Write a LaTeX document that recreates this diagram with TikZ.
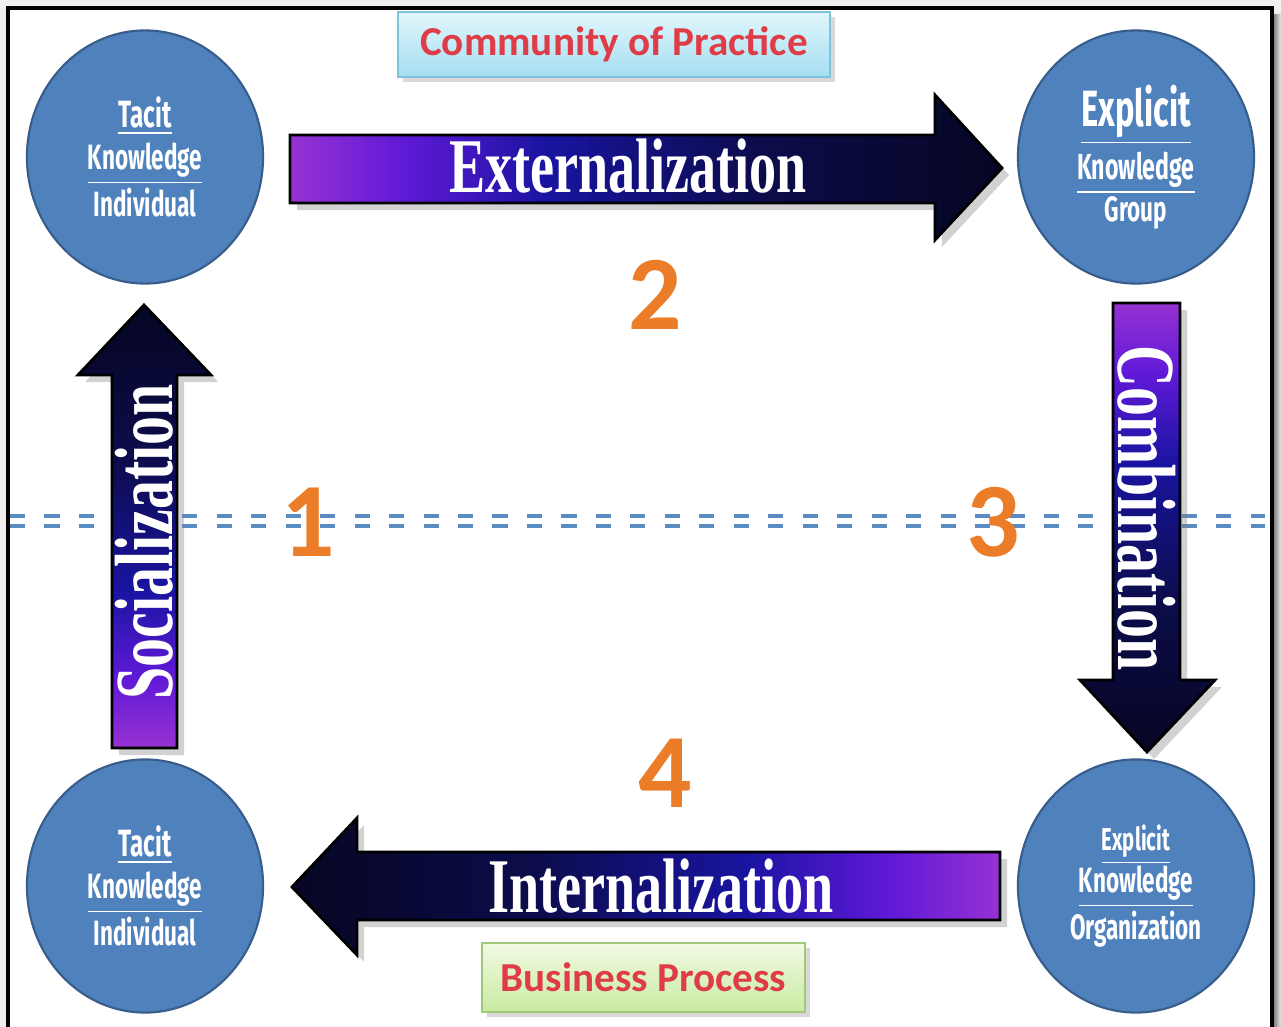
\documentclass[tikz,border=0pt]{standalone}
\usepackage{fontspec}
\usepackage{tikz}
\usepackage{xcolor}
\usetikzlibrary{shapes.geometric,shadows}

\setmainfont{Carlito}
\newfontfamily\knowfont[FakeStretch=0.64]{Fira Sans}
\newfontfamily\arrowfont[FakeStretch=0.7]{Liberation Serif}

\definecolor{circfill}{RGB}{79,129,189}
\definecolor{circdraw}{RGB}{56,93,138}
\definecolor{arrpurple}{RGB}{150,50,210}
\definecolor{arrviolet}{RGB}{95,25,215}
\definecolor{arrblue}{RGB}{25,20,160}
\definecolor{arrnavy}{RGB}{12,12,75}
\definecolor{arrdark}{RGB}{6,6,35}
\definecolor{dashblue}{RGB}{90,140,195}
\definecolor{numorange}{RGB}{236,125,40}
\definecolor{labelred}{RGB}{222,60,70}
\definecolor{cyantop}{RGB}{226,246,252}
\definecolor{cyanbot}{RGB}{165,222,242}
\definecolor{cyandraw}{RGB}{130,195,220}
\definecolor{greentop}{RGB}{242,250,228}
\definecolor{greenbot}{RGB}{200,234,160}
\definecolor{greendraw}{RGB}{160,200,120}

\pgfdeclarehorizontalshading{arrowshade}{100bp}{color(0bp)=(arrpurple); color(25bp)=(arrpurple); color(33bp)=(arrviolet); color(43bp)=(arrblue); color(58bp)=(arrnavy); color(75bp)=(arrdark); color(100bp)=(arrdark)}

\begin{document}
\begin{tikzpicture}[x=0.01cm, y=-0.01cm,
    knowcirc/.style={ellipse, draw=circdraw, line width=0.6pt, fill=circfill, minimum width=2.36cm, minimum height=2.53cm, text=white, align=center, font=\knowfont\bfseries, inner sep=0pt},
    bigarrow/.style={draw=black, line width=0.8pt, shading=arrowshade, drop shadow={opacity=0.35, shadow xshift=2pt, shadow yshift=-2pt}},
    arrowtext/.style={text=white, font=\arrowfont\bfseries\fontsize{22}{24}\selectfont},
    stepnum/.style={text=numorange, font=\bfseries\fontsize{30}{32}\selectfont},
    banner/.style={line width=0.5pt, drop shadow={opacity=0.3, shadow xshift=1.5pt, shadow yshift=-1.5pt}, text=labelred, font=\bfseries\fontsize{11.7}{14}\selectfont}]

    \useasboundingbox (0,0) rectangle (1281,1027);

    % Page and frame
    \fill[black!6] (0,0) rectangle (1281,1027);
    \fill[white] (8,8) rectangle (1272,1027);
    \shade[left color=black!55, right color=black!8] (1273,14) rectangle (1281,1027);
    \draw[line width=0.9pt] (8,1027) -- (8,8) -- (1272,8) -- (1272,1027);

    % Level divider
    \draw[dashblue, line width=1.1pt, dash pattern=on 4.3pt off 5.5pt] (10,516) -- (1265,516);
    \draw[dashblue, line width=1.1pt, dash pattern=on 4.3pt off 5.5pt] (10,526) -- (1265,526);

    % Knowledge circles
    \node[knowcirc] (tacitup) at (145,157) {\fontsize{10.8}{12.8}\selectfont\underline{Tacit}\\\underline{Knowledge}\\Individual};
    \node[knowcirc] (explgroup) at (1136,157) {\fontsize{14.5}{15}\selectfont\underline{Explicit}\\[1pt]\fontsize{10.3}{13.5}\selectfont\underline{Knowledge}\\Group};
    \node[knowcirc] (tacitdown) at (145,886) {\fontsize{10.8}{12.8}\selectfont\underline{Tacit}\\\underline{Knowledge}\\Individual};
    \node[knowcirc] (explorg) at (1136,886) {\fontsize{9}{11.5}\selectfont\underline{Explicit}\\\underline{Knowledge}\\Organization};

    % Conversion arrows
    \shadedraw[bigarrow, shading angle=0] (290,135) -- (935,135) -- (935,95) -- (1002,168) -- (935,240) -- (935,203) -- (290,203) -- cycle;
    \shadedraw[bigarrow, shading angle=-90] (1113,303) -- (1180,303) -- (1180,680) -- (1215,680) -- (1147,752) -- (1080,680) -- (1113,680) -- cycle;
    \shadedraw[bigarrow, shading angle=180] (1000,852) -- (357,852) -- (357,818) -- (292,887) -- (357,955) -- (357,920) -- (1000,920) -- cycle;
    \shadedraw[bigarrow, shading angle=90] (112,748) -- (112,375) -- (78,375) -- (144,305) -- (211,375) -- (177,375) -- (177,748) -- cycle;

    \node[arrowtext] (extern) at (628,166) {Externalization};
    \node[arrowtext, rotate=-90, font=\arrowfont\bfseries\fontsize{23.5}{24}\selectfont] (combin) at (1147,508) {Combination};
    \node[arrowtext] (intern) at (661,886) {Internalization};
    \node[arrowtext, rotate=90, font=\arrowfont\bfseries\fontsize{23.5}{24}\selectfont] (social) at (144,542) {Socialization};

    % Step numbers
    \node[stepnum] (num1) at (308,522) {1};
    \node[stepnum] (num2) at (655,295) {2};
    \node[stepnum] (num3) at (993,522) {3};
    \node[stepnum] (num4) at (665,773) {4};

    % Banners
    \node[banner, draw=cyandraw, top color=cyantop, bottom color=cyanbot, minimum width=4.32cm, minimum height=0.65cm] (commu) at (614,44.5) {Community of Practice};
    \node[banner, draw=greendraw, top color=greentop, bottom color=greenbot, minimum width=3.23cm, minimum height=0.69cm] (busin) at (643.5,977.5) {Business Process};
\end{tikzpicture}
\end{document}
